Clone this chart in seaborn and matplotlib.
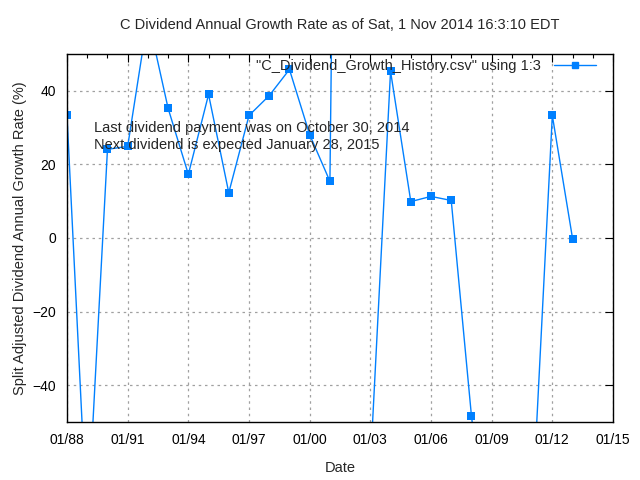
import matplotlib
matplotlib.use("Agg")
import matplotlib.pyplot as plt
import matplotlib.dates as mdates
from matplotlib.lines import Line2D
import seaborn as sns
import pandas as pd
import numpy as np

years = list(range(1988, 2014))
growth = [33.3, -79.0, 24.1, 24.9, 60.0, 35.2, 17.3, 39.0, 12.3, 33.3,
          38.7, 45.8, 28.1, 15.4, 500.0, -62.0, 45.3, 9.9, 11.3, 10.2,
          -48.3, -95.0, -100.0, -75.0, 33.3, -0.2]
x_ticks = list(range(1988, 2016, 3))
title = "C Dividend Annual Growth Rate as of Sat, 1 Nov 2014 16:3:10 EDT"
legend_label = '"C_Dividend_Growth_History.csv" using 1:3'
note1 = "Last dividend payment was on October 30, 2014"
note2 = "Next dividend is expected January 28, 2015"
ymin, ymax = -50, 50

sns.set_theme(style="white")
plt.rcParams['font.family'] = ['Liberation Sans', 'DejaVu Sans']

# gnuplot-like clipping: segments with both ends out of range are not drawn
unit = []
u = 0
for i, v in enumerate(growth):
    if i > 0:
        prev = growth[i - 1]
        if not (ymin <= prev <= ymax) and not (ymin <= v <= ymax):
            u += 1
    unit.append(u)

df = pd.DataFrame({"date": pd.to_datetime([f"{y}-01-01" for y in years]),
                   "growth": growth, "unit": unit})

color = "#0080ff"
fig = plt.figure(figsize=(6.4, 4.8), dpi=100)
ax = fig.add_axes([67/640, 1-422/480, (613-67)/640, (422-54)/480])

sns.lineplot(data=df, x="date", y="growth", units="unit", estimator=None,
             color=color, lw=1, ax=ax, legend=False)
sns.scatterplot(data=df, x="date", y="growth", color=color, marker="s",
                s=26, linewidth=0, ax=ax, legend=False)

ax.set_ylim(ymin, ymax)
ax.set_xlim(pd.Timestamp("1988-01-01"), pd.Timestamp("2015-01-01"))
ax.set_yticks([-40, -20, 0, 20, 40])
ax.set_xticks([pd.Timestamp(f"{y}-01-01") for y in x_ticks])
ax.xaxis.set_major_formatter(mdates.DateFormatter("%m/%y"))
ax.xaxis.set_minor_locator(mdates.YearLocator(1))
ax.yaxis.set_minor_locator(matplotlib.ticker.NullLocator())

ax.grid(True, which="major", color="#a0a0a0", linestyle=(0, (2, 3)), lw=0.9)
ax.tick_params(which="both", direction="in", top=True, right=True,
               labelsize=10, colors="black", pad=8)
ax.tick_params(which="major", length=6, width=0.8)
ax.tick_params(which="minor", length=3, width=0.8)
for s in ax.spines.values():
    s.set_color("black")
    s.set_linewidth(1)

ax.set_title(title, fontsize=10.5, pad=18)
ax.set_xlabel("Date", fontsize=10.5, labelpad=10)
ax.set_ylabel("Split Adjusted Dividend Annual Growth Rate (%)", fontsize=10.5, labelpad=4)

ax.text(94/640, 1-128/480, note1, transform=fig.transFigure, fontsize=10.5, va="center")
ax.text(94/640, 1-145/480, note2, transform=fig.transFigure, fontsize=10.5, va="center")

h = Line2D([], [], color=color, lw=1, marker="s", markersize=5)
ax.legend([h], [legend_label], loc="upper right", frameon=False, markerfirst=False,
          fontsize=10.5, handlelength=2.9, borderaxespad=0, borderpad=0,
          handletextpad=0.9,
          bbox_to_anchor=(596/640, 1-59/480), bbox_transform=fig.transFigure)

fig.savefig("out.png", dpi=100)
